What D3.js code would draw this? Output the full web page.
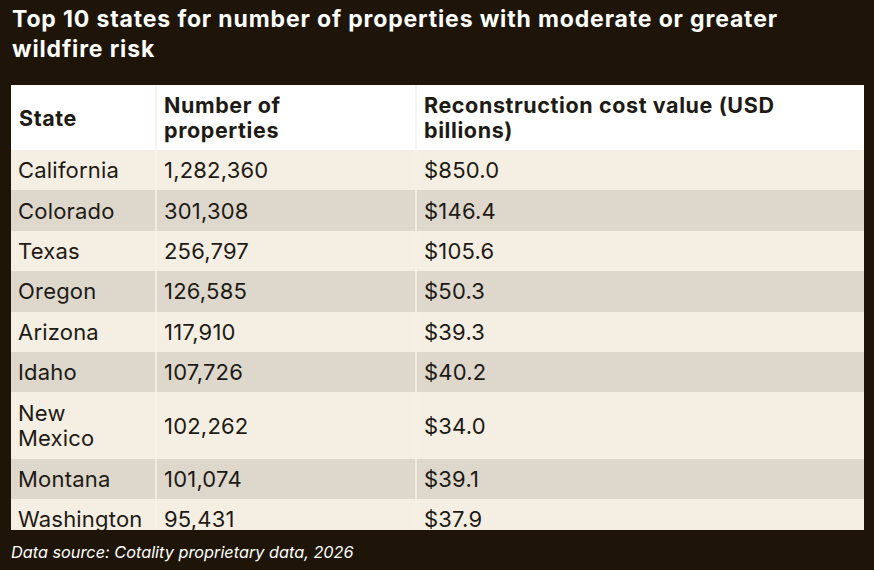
<!DOCTYPE html>
<html>
<head>
<meta charset="utf-8">
<script src="https://cdn.jsdelivr.net/npm/d3@7"></script>
<style>
  html, body { margin: 0; padding: 0; background: #1e1508; }
  svg { display: block; }
</style>
</head>
<body>
<svg id="chart"></svg>
<script>
// table content
const states = ["California", "Colorado", "Texas", "Oregon", "Arizona", "Idaho", "New Mexico", "Montana", "Washington"];
const properties = [1282360, 301308, 256797, 126585, 117910, 107726, 102262, 101074, 95431];
const costs = [850.0, 146.4, 105.6, 50.3, 39.3, 40.2, 34.0, 39.1, 37.9];
const headers = ["State", "Number of properties", "Reconstruction cost value (USD billions)"];
const columns = ["state", "props", "cost"];

const width = 874, height = 570;
const margin = {left: 11, right: 10, top: 85, bottom: 40};
const textColor = "#1e1a14";
const fontFamily = "Inter, 'Noto Sans', sans-serif";

const svg = d3.select("#chart").attr("width", width).attr("height", height);

svg.append("rect").attr("width", width).attr("height", height).attr("fill", "#1e1508");

// title
const title = svg.append("text")
    .attr("x", 12).attr("y", 27)
    .attr("fill", "#ffffff")
    .style("font-family", fontFamily)
    .style("font-size", "23px")
    .style("font-weight", 700)
    .style("letter-spacing", "0.85px");
title.append("tspan").attr("x", 12).text("Top 10 states for number of properties with moderate or greater");
title.append("tspan").attr("x", 12).attr("dy", 30).text("wildfire risk");

// columns
const colX = d3.scaleOrdinal().domain(columns).range([margin.left, 156, 416]);
const padX = 8;

const fmtNum = d3.format(",");
const fmtCost = v => "$" + d3.format(".1f")(v);

const rows = states.map((s, i) => ({state: s, props: fmtNum(properties[i]), cost: fmtCost(costs[i])}));

const bodySize = 22, headSize = 21.5;
const bodySpacing = "0.2px", headSpacing = "0.6px";

// measure text to wrap
const measure = svg.append("text").style("font-family", fontFamily).style("visibility", "hidden");
function wrap(str, maxW, size, weight, spacing) {
    measure.style("font-size", size + "px").style("font-weight", weight).style("letter-spacing", spacing);
    const words = str.split(" ");
    const lines = [];
    let line = "";
    words.forEach(w => {
        const test = line ? line + " " + w : w;
        measure.text(test);
        if (line && measure.node().getComputedTextLength() > maxW) {
            lines.push(line);
            line = w;
        } else {
            line = test;
        }
    });
    lines.push(line);
    return lines;
}

const lineH = 25.8;
const rowPad = 14.6;

const headerCells = columns.map((c, j) => ({col: c, lines: wrap(headers[j], [105, 150, 370][j], headSize, 700, headSpacing)}));
const headerH = 65;

let yPos = margin.top + headerH;
const bodyRows = rows.map((r, i) => {
    const cells = columns.map(c => ({col: c, lines: c === "state" ? wrap(r[c], 120, bodySize, 400, bodySpacing) : [r[c]]}));
    const n = d3.max(cells, d => d.lines.length);
    const h = rowPad + lineH * n;
    const row = {i, y: yPos, h, cells};
    yPos += h;
    return row;
});

const tableBottom = 530;
svg.append("clipPath").attr("id", "tclip")
    .append("rect")
    .attr("x", margin.left).attr("y", margin.top)
    .attr("width", width - margin.left - margin.right)
    .attr("height", tableBottom - margin.top);

const table = svg.append("g").attr("clip-path", "url(#tclip)");

// header
const head = table.append("g");
head.append("rect")
    .attr("x", margin.left).attr("y", margin.top)
    .attr("width", width - margin.left - margin.right).attr("height", headerH)
    .attr("fill", "#ffffff")
    .attr("shape-rendering", "crispEdges");

head.selectAll("text.h")
    .data(headerCells)
    .join("text")
    .attr("class", "h")
    .attr("fill", textColor)
    .style("font-family", fontFamily)
    .style("font-size", headSize + "px")
    .style("font-weight", 700)
    .style("letter-spacing", headSpacing)
    .each(function (d) {
        const t = d3.select(this);
        const cy = margin.top + headerH / 2;
        const y0 = cy + 8 - (d.lines.length - 1) * 24.5 / 2;
        d.lines.forEach((l, k) => {
            t.append("tspan").attr("x", colX(d.col) + padX).attr("y", y0 + k * 24.5).text(l);
        });
    });

// body rows
const rowG = table.selectAll("g.row")
    .data(bodyRows)
    .join("g")
    .attr("class", "row");

rowG.append("rect")
    .attr("x", margin.left)
    .attr("y", d => d.y)
    .attr("width", width - margin.left - margin.right)
    .attr("height", d => d.h)
    .attr("fill", d => d.i % 2 === 0 ? "#f5eee2" : "#ddd7cc")
    .attr("shape-rendering", "crispEdges");

rowG.selectAll("text")
    .data(d => d.cells.map(c => ({...c, y: d.y, h: d.h})))
    .join("text")
    .attr("fill", textColor)
    .style("font-family", fontFamily)
    .style("font-size", bodySize + "px")
    .style("font-weight", 400)
    .style("letter-spacing", bodySpacing)
    .each(function (d) {
        const t = d3.select(this);
        const cy = d.y + d.h / 2;
        const y0 = cy + 8 - (d.lines.length - 1) * lineH / 2;
        d.lines.forEach((l, k) => {
            t.append("tspan").attr("x", colX(d.col) + (d.col === "state" ? padX - 1 : padX)).attr("y", y0 + k * lineH).text(l);
        });
    });

// column dividers
table.selectAll("line.div")
    .data(columns.slice(1))
    .join("line")
    .attr("class", "div")
    .attr("x1", d => colX(d)).attr("x2", d => colX(d))
    .attr("y1", margin.top).attr("y2", tableBottom)
    .attr("stroke", "#f7f1e7")
    .attr("stroke-width", 1.5);

measure.remove();

// footer
svg.append("text")
    .attr("x", 11).attr("y", 558)
    .attr("fill", "#ffffff")
    .style("font-family", fontFamily)
    .style("font-size", "16.3px")
    .style("font-style", "italic")
    .text("Data source: Cotality proprietary data, 2026");
</script>
</body>
</html>
